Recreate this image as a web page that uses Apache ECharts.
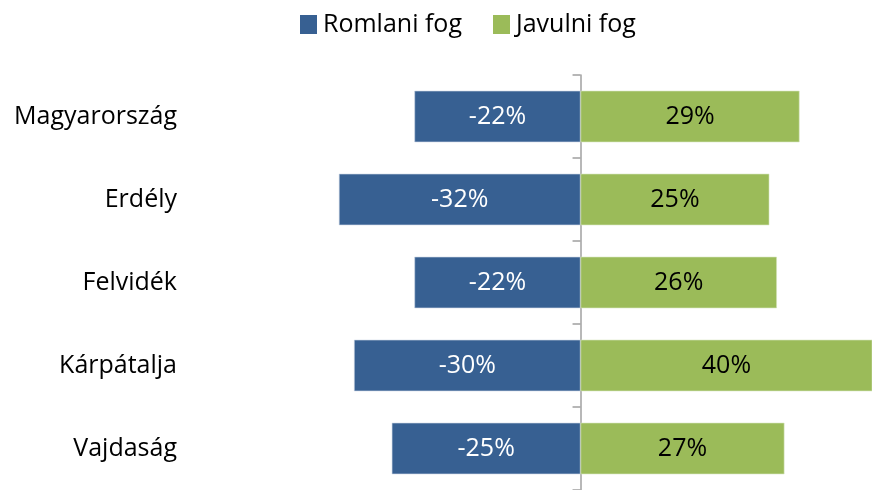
<!DOCTYPE html>
<html>
<head>
	<meta charset="utf-8">
	<title>Romlani fog / Javulni fog</title>
	<style>
		* { margin: 0; padding: 0; box-sizing: border-box; }
		body { background: #fff; overflow: hidden; }
		#chart { width: 872px; height: 490px; }
	</style>
	<script src="https://cdn.jsdelivr.net/npm/echarts@6/dist/echarts.min.js"></script>
</head>
<body>
<div id="chart"></div>
<script>
	// regions, top to bottom
	var regions = ['Magyarország', 'Erdély', 'Felvidék', 'Kárpátalja', 'Vajdaság'];
	// percentages as printed on the bars
	var worse = [-22, -32, -22, -30, -25];
	var better = [29, 25, 26, 40, 27];
	var seriesNames = ['Romlani fog', 'Javulni fog'];

	var font = '"Open Sans", sans-serif';
	var gridLeft = 203;
	var xMin = -50, xMax = 38.6;
	var chart = echarts.init(document.getElementById('chart'));
	// pixel distance from the grid's left edge to the zero line
	var zeroOffset = (0 - xMin) / (xMax - xMin) * (872 - gridLeft);

	chart.setOption({
		animation: false,
		textStyle: { fontFamily: font },
		legend: {
			data: seriesNames,
			left: 300,
			top: 12,
			padding: 0,
			itemWidth: 17,
			itemHeight: 19,
			itemGap: 31,
			icon: 'rect',
			itemStyle: { borderWidth: 0 },
			textStyle: { fontFamily: font, fontSize: 25, color: '#000', padding: [0, 0, 0, 1] }
		},
		grid: { left: gridLeft, right: 0, top: 75, bottom: -4, containLabel: false },
		xAxis: {
			type: 'value',
			min: xMin,
			max: xMax,
			show: false
		},
		yAxis: [{
			// labels on the left
			type: 'category',
			inverse: true,
			data: regions,
			axisLine: { show: false },
			axisTick: { show: false },
			axisLabel: { fontFamily: font, fontSize: 25, color: '#000', margin: 26 }
		}, {
			// the centre line with its ticks, moved in to x = 0
			type: 'category',
			inverse: true,
			position: 'left',
			offset: -zeroOffset,
			data: regions,
			axisLine: { show: true, onZero: false, lineStyle: { color: '#a0a0a0', width: 1.5 } },
			axisTick: { show: true, length: 8, lineStyle: { color: '#a0a0a0', width: 1.5 } },
			axisLabel: { show: false }
		}],
		series: [{
			name: seriesNames[0],
			type: 'bar',
			stack: 'all',
			barCategoryGap: '38%',
			data: worse,
			itemStyle: { color: '#376092', borderColor: '#c9d4e2', borderWidth: 0.6 },
			label: {
				show: true,
				position: 'inside',
				color: '#fff',
				fontFamily: font,
				fontSize: 25,
				formatter: function (p) { return p.value + '%'; }
			}
		}, {
			name: seriesNames[1],
			type: 'bar',
			stack: 'all',
			barCategoryGap: '38%',
			data: better,
			itemStyle: { color: '#9bbb59', borderColor: '#d4e3bb', borderWidth: 0.6 },
			label: {
				show: true,
				position: 'inside',
				color: '#000',
				fontFamily: font,
				fontSize: 25,
				formatter: function (p) { return p.value + '%'; }
			}
		}]
	});
</script>
</body>
</html>
